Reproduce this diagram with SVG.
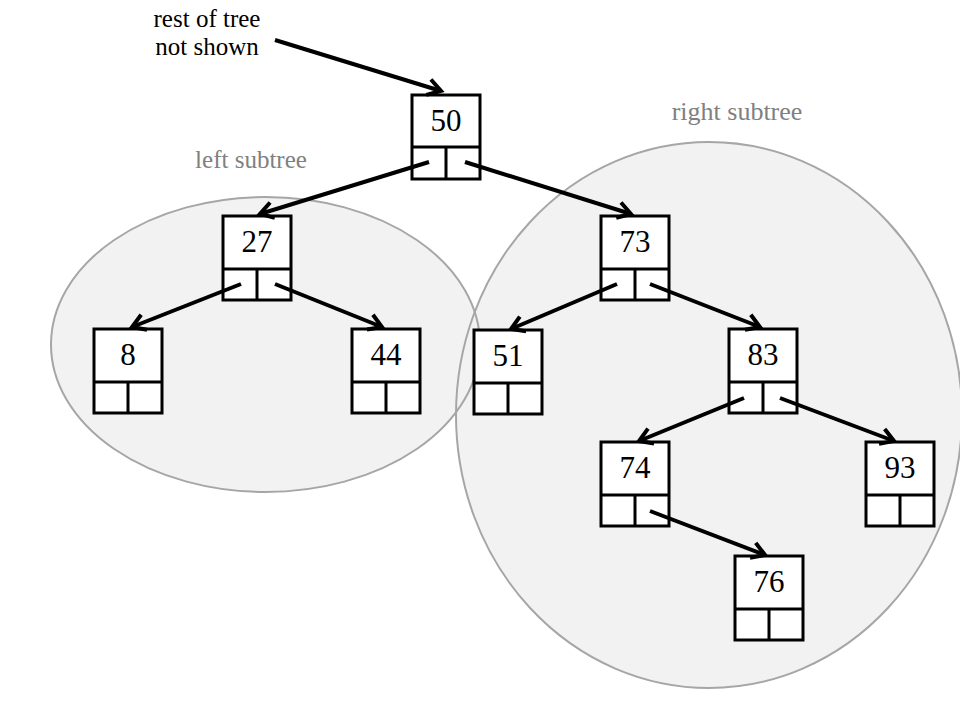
<svg xmlns="http://www.w3.org/2000/svg" width="960" height="720" viewBox="0 0 960 720">
<style>
.box{fill:#ffffff;stroke:#000;stroke-width:3}
.div{fill:none;stroke:#000;stroke-width:3}
.num{font-family:"Liberation Serif","DejaVu Serif",serif;font-size:31px;fill:#000;text-anchor:middle}
.lbl{font-family:"Liberation Serif","DejaVu Serif",serif;font-size:25px;fill:#000;text-anchor:middle}
.grey{font-family:"Liberation Serif","DejaVu Serif",serif;font-size:25px;fill:#808080;text-anchor:middle}
.edge{fill:none;stroke:#000;stroke-width:4;marker-end:url(#arr)}
.regfill{fill:#f2f2f2;stroke:none}
.regline{fill:none;stroke:#a6a6a6;stroke-width:2}
</style>
<defs>
<marker id="arr" markerUnits="userSpaceOnUse" viewBox="-16 -10 20 20" markerWidth="20" markerHeight="20" refX="0" refY="0" orient="auto">
<path d="M-13,-8 L0,0 L-13,8" fill="none" stroke="#000" stroke-width="4" stroke-linecap="butt" stroke-linejoin="miter"/>
</marker>
</defs>
<rect width="960" height="720" fill="#ffffff"/>
<g id="regions">
<ellipse class="regfill" cx="265.5" cy="344.5" rx="214.5" ry="147.5"/>
<ellipse class="regfill" cx="709" cy="415" rx="253" ry="273"/>
<ellipse class="regline" cx="265.5" cy="344.5" rx="214.5" ry="147.5"/>
<ellipse class="regline" cx="709" cy="415" rx="253" ry="273"/>
</g>
<g id="labels">
<text class="lbl" x="207" y="27">rest of tree</text>
<text class="lbl" x="207" y="55">not shown</text>
<text class="grey" x="251" y="168">left subtree</text>
<text class="grey" x="737" y="120" style="font-size:26px">right subtree</text>
</g>
<g id="n50"><rect class="box" x="412" y="95" width="68" height="84"/><path class="div" d="M412,147H480M446,147V179"/><text class="num" x="446" y="131">50</text></g>
<g id="n27"><rect class="box" x="223" y="216" width="68" height="84"/><path class="div" d="M223,269H291M257,269V300"/><text class="num" x="257" y="252">27</text></g>
<g id="n73"><rect class="box" x="601" y="216" width="68" height="84"/><path class="div" d="M601,269H669M635,269V300"/><text class="num" x="635" y="252">73</text></g>
<g id="n8"><rect class="box" x="94" y="329" width="68" height="84"/><path class="div" d="M94,382H162M128,382V413"/><text class="num" x="128" y="365">8</text></g>
<g id="n44"><rect class="box" x="352" y="329" width="68" height="84"/><path class="div" d="M352,382H420M386,382V413"/><text class="num" x="386" y="365">44</text></g>
<g id="n51"><rect class="box" x="474" y="330" width="68" height="84"/><path class="div" d="M474,383H542M508,383V414"/><text class="num" x="508" y="366">51</text></g>
<g id="n83"><rect class="box" x="729" y="329" width="68" height="84"/><path class="div" d="M729,382H797M763,382V413"/><text class="num" x="763" y="365">83</text></g>
<g id="n74"><rect class="box" x="601" y="442" width="68" height="84"/><path class="div" d="M601,495H669M635,495V526"/><text class="num" x="635" y="478">74</text></g>
<g id="n93"><rect class="box" x="866" y="442" width="68" height="84"/><path class="div" d="M866,495H934M900,495V526"/><text class="num" x="900" y="478">93</text></g>
<g id="n76"><rect class="box" x="735" y="556" width="68" height="84"/><path class="div" d="M735,609H803M769,609V640"/><text class="num" x="769" y="592">76</text></g>
<g id="connectors">
<path class="edge" d="M275,40L441,91"/>
<path class="edge" d="M429,162L260,214"/>
<path class="edge" d="M465,162L631,214"/>
<path class="edge" d="M241,284L132,327"/>
<path class="edge" d="M275,284L382,327"/>
<path class="edge" d="M617,284L511,329"/>
<path class="edge" d="M650,284L760,327"/>
<path class="edge" d="M744,398L639,441"/>
<path class="edge" d="M780,398L894,441"/>
<path class="edge" d="M650,511L765,555"/>
</g>
</svg>
